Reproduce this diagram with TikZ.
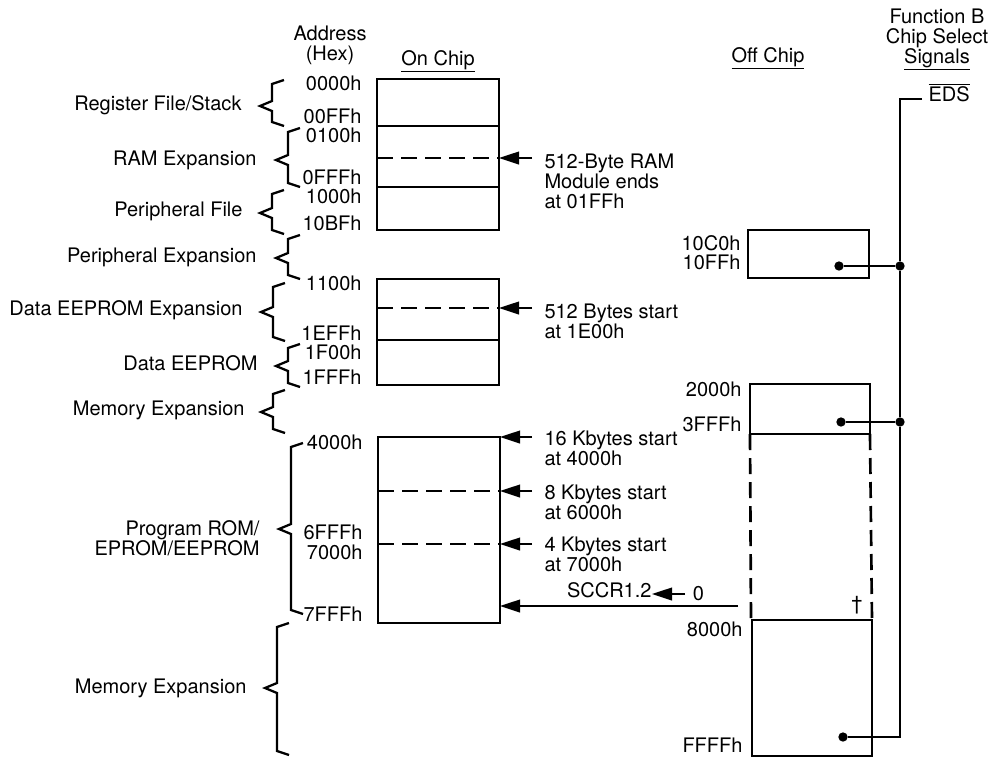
\documentclass[tikz,border=0pt]{standalone}
\usepackage{fontspec}
\setmainfont{TeX Gyre Heros}
\usetikzlibrary{arrows.meta}

\tikzset{every picture/.style={line width=0.75pt}}
\tikzset{
  membox/.style={line width=2pt},
  memdash/.style={line width=2pt, dash pattern={on 12pt off 6pt}},
  brc/.style={line width=1.7pt},
  ptr/.style={line width=1.3pt, -{Triangle[length=15pt,width=9.5pt]}},
  sig/.style={line width=1.3pt},
  sigdot/.style={circle, fill, inner sep=0pt, minimum size=7pt},
  lbl/.style={inner sep=0pt, font=\fontsize{15}{15}\selectfont},
  note/.style={lbl, anchor=north west, align=left, inner xsep=9pt}
}
% brace: vertical x, top y, tip y, bottom y
\newcommand{\memBrace}[4]{%
  \draw [brc] (#1+12,#2) -- (#1,#2+4) -- (#1,#3-5) -- (#1-12,#3) -- (#1,#3+5) -- (#1,#4-4) -- (#1+12,#4);}

\begin{document}
\begin{tikzpicture}[x=0.75pt,y=0.75pt,yscale=-1,xscale=1]
\useasboundingbox (0,0) rectangle (1001,758);

% Text Node
\draw (330,45) node [lbl, align=center] (addrhead) {Address\\(Hex)};
% Text Node
\draw (438,65) node [lbl, anchor=base] (onhead) {\underline{On Chip}};
% Text Node
\draw (768,62) node [lbl, anchor=base] (offhead) {\underline{Off Chip}};
% Text Node
\draw (937,8) node [lbl, anchor=north, align=center] (fnhead) {Function B\\Chip Select\\\underline{Signals}};

%Shape: Braces
\memBrace{272}{80}{106}{126}
\memBrace{288}{128}{160}{187}
\memBrace{272}{190}{213}{234}
\memBrace{288}{235}{258}{279}
\memBrace{273}{283}{312}{341}
\memBrace{288}{344}{366}{387}
\memBrace{273}{390}{412}{433}
\memBrace{291}{443}{529}{614}
\memBrace{277}{623}{688}{755}

% Text Node
\draw (242,107) node [lbl, anchor=mid east] (regfile) {Register File/Stack};
\draw (257,162) node [lbl, anchor=mid east] (ramexp) {RAM Expansion};
\draw (243,213) node [lbl, anchor=mid east] (perfile) {Peripheral File};
\draw (257,259) node [lbl, anchor=mid east] (perexp) {Peripheral Expansion};
\draw (243,312) node [lbl, anchor=mid east] (eeexp) {Data EEPROM Expansion};
\draw (258,367) node [lbl, anchor=mid east] (eedata) {Data EEPROM};
\draw (245,412) node [lbl, anchor=mid east] (memexpa) {Memory Expansion};
\draw (260,520) node [lbl, anchor=north east, align=right] (progrom) {Program ROM/\\EPROM/EEPROM};
\draw (247,690) node [lbl, anchor=mid east] (memexpb) {Memory Expansion};

% Text Node
\draw (362,87) node [lbl, anchor=mid east] (a0000) {0000h};
\draw (362,120) node [lbl, anchor=mid east] (a00FF) {00FFh};
\draw (362,139) node [lbl, anchor=mid east] (a0100) {0100h};
\draw (362,181) node [lbl, anchor=mid east] (a0FFF) {0FFFh};
\draw (362,200) node [lbl, anchor=mid east] (a1000) {1000h};
\draw (362,227) node [lbl, anchor=mid east] (a10BF) {10BFh};
\draw (362,287) node [lbl, anchor=mid east] (a1100) {1100h};
\draw (362,337) node [lbl, anchor=mid east] (a1EFF) {1EFFh};
\draw (362,356) node [lbl, anchor=mid east] (a1F00) {1F00h};
\draw (362,381) node [lbl, anchor=mid east] (a1FFF) {1FFFh};
\draw (363,446) node [lbl, anchor=mid east] (a4000) {4000h};
\draw (363,536) node [lbl, anchor=mid east] (a6FFF) {6FFFh};
\draw (363,556) node [lbl, anchor=mid east] (a7000) {7000h};
\draw (363,618) node [lbl, anchor=mid east] (a7FFF) {7FFFh};

%Shape: Rectangle
\draw [membox] (377,79) rectangle (499,230);
\draw [membox] (377,126) -- (499,126);
\draw [memdash] (377,158) -- (499,158);
\draw [membox] (377,187) -- (499,187);
%Shape: Rectangle
\draw [membox] (377,279) rectangle (499,385);
\draw [memdash] (377,308) -- (499,308);
\draw [membox] (377,340) -- (499,340);
%Shape: Rectangle
\draw [membox] (378,437) rectangle (500,623);
\draw [memdash] (378,491) -- (500,491);
\draw [memdash] (378,544) -- (500,544);

\coordinate (ramtip) at (499,158);
\coordinate (eetip) at (499,308);
\coordinate (k16tip) at (500,437);
\coordinate (k8tip) at (500,491);
\coordinate (k4tip) at (500,544);
\coordinate (seltip) at (500,606);
\coordinate (selsrc) at (738,606);

% Text Node
\draw (532,153) node [note] (ramnote) {512-Byte RAM\\Module ends\\at 01FFh};
\draw (532,303) node [note] (eenote) {512 Bytes start\\at 1E00h};
\draw (532,430) node [note] (k16note) {16 Kbytes start\\at 4000h};
\draw (532,484) node [note] (k8note) {8 Kbytes start\\at 6000h};
\draw (532,536) node [note] (k4note) {4 Kbytes start\\at 7000h};

%Straight Lines
\draw [ptr] (ramnote.north west |- ramtip) -- (ramtip);
\draw [ptr] (eenote.north west |- eetip) -- (eetip);
\draw [ptr] (k16note.north west |- k16tip) -- (k16tip);
\draw [ptr] (k8note.north west |- k8tip) -- (k8tip);
\draw [ptr] (k4note.north west |- k4tip) -- (k4tip);
\draw [ptr] (selsrc) -- (seltip);

% Text Node
\draw (652,594) node [lbl, anchor=mid east] (sccr) {SCCR1.2};
\draw (685,597) node [lbl, anchor=mid west, inner xsep=5.5pt] (zerobit) {0};
\draw [ptr] (zerobit.west |- sccr.mid east) -- (sccr.mid east);

%Shape: Rectangle
\draw [membox] (748,230) rectangle (869,278);
\draw [membox] (750,384) rectangle (870,434);
\draw [memdash] (750,434) -- (751,620);
\draw [memdash] (870,434) -- (872,620);
\draw [membox] (752,620) rectangle (872,756);
\draw (857,605) node [lbl] (dagmark) {†};

% Text Node
\draw (741,247) node [lbl, anchor=mid east] (a10C0) {10C0h};
\draw (741,266) node [lbl, anchor=mid east] (a10FF) {10FFh};
\draw (742,393) node [lbl, anchor=mid east] (a2000) {2000h};
\draw (742,428) node [lbl, anchor=mid east] (a3FFF) {3FFFh};
\draw (743,633) node [lbl, anchor=mid east] (a8000) {8000h};
\draw (743,749) node [lbl, anchor=mid east] (aFFFF) {FFFFh};

%Shape: Circle
\draw (839,266) node [sigdot] (dotA) {};
\draw (900,266) node [sigdot] (jnA) {};
\draw (841,422) node [sigdot] (dotB) {};
\draw (900,422) node [sigdot] (jnB) {};
\draw (843,737) node [sigdot] (dotC) {};
\coordinate (edstop) at (900,99);
\coordinate (busend) at (900,737);

% Text Node
\draw (922,98) node [lbl, anchor=mid west, inner xsep=4.5pt] (eds) {$\overline{\mbox{EDS}}$};

%Straight Lines
\draw [sig] (eds.west |- edstop) -- (edstop) -- (jnA) -- (jnB) -- (busend) -- (dotC);
\draw [sig] (dotA) -- (jnA);
\draw [sig] (dotB) -- (jnB);

\end{tikzpicture}
\end{document}
